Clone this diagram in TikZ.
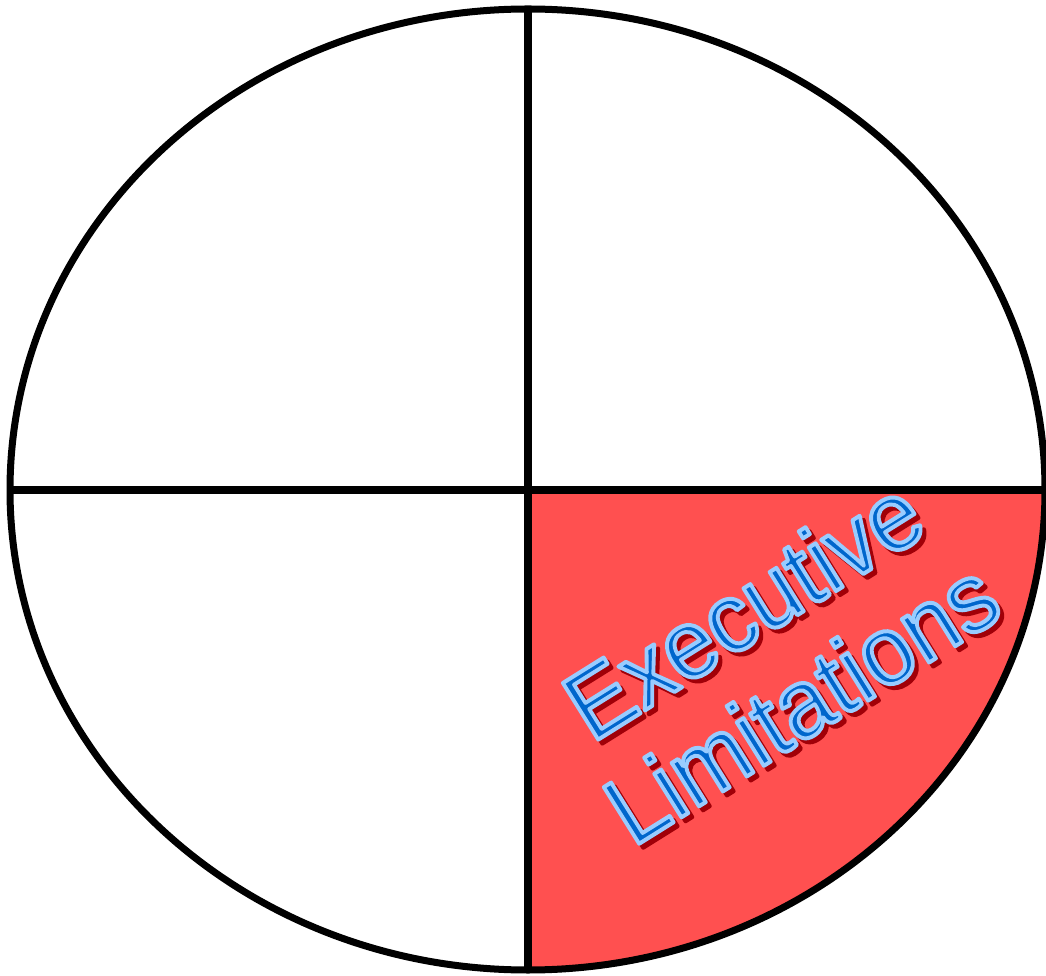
\documentclass[tikz,border=0pt]{standalone}
\usepackage{fontspec}
\setmainfont{Liberation Sans}
\usepackage{xcolor}

\definecolor{quadred}{HTML}{FF5050}
\definecolor{wordblue}{HTML}{0066CC}
\definecolor{wordshadow}{HTML}{A00008}

% a word with its glyph outlines stroked: width, stroke rgb, fill colour, word
\newcommand{\strokedword}[4]{{\color{#3}\special{pdf:literal direct 2 Tr #1 w 1 j #2 RG}#4\special{pdf:literal direct 0 Tr}}}

\begin{document}
\begin{tikzpicture}[
  x=1pt, y=1pt,
  rim/.style={line width=7pt, line join=round},
  cross/.style={line width=8pt},
  wordart/.style={font=\fontsize{97}{110}\selectfont, align=center,
                  rotate=32, xscale=0.95, transform shape, inner sep=0pt},
]
\useasboundingbox (0,0) rectangle (1046,975);

%% ---- the four quarters ----
\coordinate (c)  at (528,485);
\coordinate (l)  at (10,485);
\coordinate (r)  at (1045,485);
\coordinate (t)  at (528,966);
\coordinate (b)  at (528,5);

\fill[quadred] (c) -- (r) arc (0:-90:517 and 480) -- cycle;

\draw[rim] (t) arc (90:180:518 and 481);
\draw[rim] (t) arc (90:0:517 and 481);
\draw[rim] (l) arc (180:270:518 and 480);
\draw[rim] (r) arc (0:-90:517 and 480);

\draw[cross] (t) -- (b);
\draw[cross] (l) -- (r);

%% ---- label ----
\coordinate (mid) at (772,320);
\node[wordart] (shadow) at ([shift={(4,-4)}]mid)
  {\strokedword{4}{0.63 0 0.03}{wordshadow}{Executive}\\
   \strokedword{4}{0.63 0 0.03}{wordshadow}{Limitations}};
\node[wordart] (label) at (mid)
  {\strokedword{4}{0.6 0.8 1}{wordblue}{Executive}\\
   \strokedword{4}{0.6 0.8 1}{wordblue}{Limitations}};
\end{tikzpicture}
\end{document}
